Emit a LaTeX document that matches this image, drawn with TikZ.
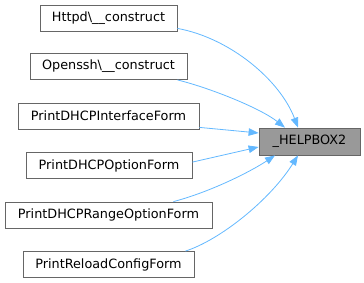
\documentclass[tikz,border=0pt]{standalone}
\usepackage{fontspec}
\setmainfont{DejaVu Sans}
\usetikzlibrary{arrows.meta}

\definecolor{edgeblue}{HTML}{63B8FF}
\definecolor{boxline}{HTML}{666666}
\definecolor{boxfill}{HTML}{999999}

\begin{document}
\begin{tikzpicture}[x=1pt, y=-1pt,
    >={Triangle[length=10pt, width=7.5pt]},
    caller/.style={draw=boxline, fill=white, line width=0.8pt, inner sep=0pt,
      minimum height=26pt, font=\fontsize{12.8}{14}\selectfont},
    callee/.style={caller, fill=boxfill, minimum height=27pt},
    call/.style={->, draw=edgeblue, line width=0.8pt}]
  % fixes the page size
  \useasboundingbox (0,0) rectangle (364,283);

  % The called function
  \node[callee, minimum width=101pt] (helpbox) at (309.5,141.5) {\_HELPBOX2};

  % The callers, one column on the left
  \node[caller, minimum width=137pt] (httpd) at (108.5,18) {Httpd\textbackslash\_\_construct};
  \node[caller, minimum width=157pt] (openssh) at (108.5,66.5) {Openssh\textbackslash\_\_construct};
  \node[caller, minimum width=181pt] (ifform) at (108.5,116) {PrintDHCPInterfaceForm};
  \node[caller, minimum width=166pt] (optform) at (109,165.5) {PrintDHCPOptionForm};
  \node[caller, minimum width=207pt] (rangeform) at (108.5,215) {PrintDHCPRangeOptionForm};
  \node[caller, minimum width=171pt] (reloadform) at (108.5,264.5) {PrintReloadConfigForm};

  % Call edges
  \draw[call] ([yshift=3pt]httpd.south east) .. controls (230,38) and (280,80) .. ([xshift=-11.5pt]helpbox.north);
  \draw[call] ([xshift=-10pt]openssh.south east) .. controls (210,88) and (260,108) .. ([xshift=-24.5pt]helpbox.north);
  \draw[call] ([yshift=2pt]ifform.south east) -- ([yshift=8.5pt]helpbox.west);
  \draw[call] ([yshift=-10pt]optform.north east) -- ([yshift=-5.5pt]helpbox.west);
  \draw[call] ([xshift=-39pt]rangeform.north east) .. controls (210,192) and (250,172) .. ([xshift=-34.5pt]helpbox.south);
  \draw[call] ([xshift=-9pt]reloadform.north east) .. controls (220,240) and (270,200) .. ([xshift=-11.5pt]helpbox.south);
\end{tikzpicture}
\end{document}
